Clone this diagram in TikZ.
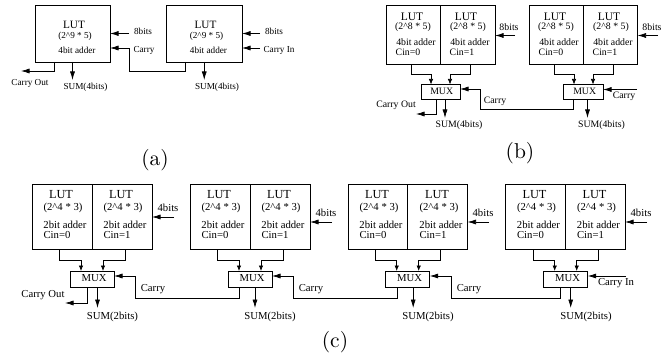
\documentclass[tikz,border=0pt]{standalone}
\usepackage{fontspec}
\usepackage{tikz}
\usetikzlibrary{arrows.meta}
\newfontfamily\timesfont{Liberation Serif}
\tikzset{
  cell/.style={draw,line width=0.8pt,inner sep=0pt,outer sep=0pt},
  sig/.style={line width=0.7pt,-{Latex[length=8.5pt,width=5pt]}},
  feed/.style={line width=0.7pt,-{Latex[length=5.5pt,width=4.5pt]}},
  wire/.style={inner sep=0pt},
  luta/.style={wire,font=\timesfont\fontsize{11.2}{12}\selectfont},
  txta/.style={wire,font=\timesfont\fontsize{9.2}{10}\selectfont},
  lutb/.style={wire,font=\timesfont\fontsize{11.5}{12}\selectfont},
  txtb/.style={wire,font=\timesfont\fontsize{9.8}{11}\selectfont},
  lutc/.style={wire,font=\timesfont\fontsize{12.3}{13}\selectfont},
  txtc/.style={wire,font=\timesfont\fontsize{10.7}{12}\selectfont},
  panel/.style={wire,scale=2.15},
}
\begin{document}
\begin{tikzpicture}[x=1pt,y=-1pt]
\useasboundingbox (0,0) rectangle (671,358);
% (a)
\node[cell,minimum width=75pt,minimum height=56.5pt] (a1) at (72.5,33.75) {};
\node[cell,minimum width=75.5pt,minimum height=56.5pt] (a2) at (204.25,33.75) {};
\node[luta] (a1lut) at (74,25) {LUT};
\node[txta] (a1size) at (75,36) {(2\^{}9 * 5)};
\node[txta] (a1add) at (77,50) {4bit adder};
\node[luta] (a2lut) at (205.5,25) {LUT};
\node[txta] (a2size) at (206.5,36) {(2\^{}9 * 5)};
\node[txta] (a2add) at (208.5,50) {4bit adder};
\node[txta] (a1bits) at (143,31) {8bits};
\node[txta] (a1carry) at (144,50) {Carry};
\node[txta] (a2bits) at (274,31) {8bits};
\node[txta] (a2carry) at (279,50) {Carry In};
\node[txta] (a1out) at (30,83) {Carry Out};
\node[txta] (a1sum) at (85.5,87) {SUM(4bits)};
\node[txta] (a2sum) at (217,87) {SUM(4bits)};
\node[panel] (alabel) at (155,160) {(a)};
\coordinate (a1in) at (129,33.5);
\coordinate (a2in) at (260,33.5);
\coordinate (a2cin) at (260,48);
\coordinate (a1bend) at (129,48);
\coordinate (a1co) at (21,71);
\draw[sig] (a1in) -- (a1in -| a1.east);
\draw[sig] (a2in) -- (a2in -| a2.east);
\draw[sig] (a2cin) -- (a2cin -| a2.east);
\draw[sig] ([xshift=-18.5pt]a1.south) |- (a1co);
\draw[sig] (a1.south) -- ++(0,18);
\draw[sig] (a2.south) -- ++(0,18);
\draw[sig] ([xshift=-18.75pt]a2.south) -- ++(0,9) -| (a1bend) -- (a1bend -| a1.east);
% (b)
\node[cell,minimum width=54pt,minimum height=59pt] (b1l) at (413,35) {};
\node[cell,minimum width=55pt,minimum height=59pt] (b1r) at (467.5,35) {};
\node[cell,minimum width=54.5pt,minimum height=59pt] (b2l) at (556.25,35) {};
\node[cell,minimum width=54pt,minimum height=59pt] (b2r) at (610.5,35) {};
\node[cell,minimum width=39pt,minimum height=14.5pt] (b1m) at (440.5,91.75) {};
\node[cell,minimum width=39.5pt,minimum height=14.5pt] (b2m) at (583.25,91.75) {};
\node[lutb] (b1llut) at (412,16.5) {LUT};
\node[txtb] (b1lsize) at (413,27) {(2\^{}8 * 5)};
\node[txtb] (b1ladd) at (416,42) {4bit adder};
\node[txtb] (b1lcin) at (408,52) {Cin=0};
\node[lutb] (b1rlut) at (466,16.5) {LUT};
\node[txtb] (b1rsize) at (468,27) {(2\^{}8 * 5)};
\node[txtb] (b1radd) at (470,42) {4bit adder};
\node[txtb] (b1rcin) at (462,52) {Cin=1};
\node[lutb] (b2llut) at (555,16.5) {LUT};
\node[txtb] (b2lsize) at (556,27) {(2\^{}8 * 5)};
\node[txtb] (b2ladd) at (559,42) {4bit adder};
\node[txtb] (b2lcin) at (551,52) {Cin=0};
\node[lutb] (b2rlut) at (609,16.5) {LUT};
\node[txtb] (b2rsize) at (611,27) {(2\^{}8 * 5)};
\node[txtb] (b2radd) at (613,42) {4bit adder};
\node[txtb] (b2rcin) at (605,52) {Cin=1};
\node[txtb] (b1mux) at (441.7,91.5) {MUX};
\node[txtb] (b2mux) at (584.7,91.5) {MUX};
\node[txtb] (b1bits) at (509,27) {8bits};
\node[txtb] (b2bits) at (652,27) {8bits};
\node[txtb] (b1carry) at (495,101) {Carry};
\node[txtb] (b2carry) at (624,96) {Carry};
\node[txtb] (b1out) at (396,105.5) {Carry Out};
\node[txtb] (b1sum) at (459,125.5) {SUM(4bits)};
\node[txtb] (b2sum) at (601.5,125.5) {SUM(4bits)};
\node[panel] (blabel) at (520,153) {(b)};
\coordinate (b1in) at (515,35.5);
\coordinate (b2in) at (658,35.5);
\coordinate (b2cin) at (637,89.5);
\coordinate (b1bend) at (480,89);
\coordinate (b1co) at (416,114);
\draw[sig] (b1in) -- (b1in -| b1r.east);
\draw[sig] (b2in) -- (b2in -| b2r.east);
\draw[sig] (b2cin) -- (b2cin -| b2m.east);
\draw[feed] ([xshift=-2pt]b1l.south) -- ++(0,9.5) -| ([xshift=-9.5pt]b1m.north);
\draw[feed] ([xshift=2.5pt]b1r.south) -- ++(0,9.5) -| ([xshift=9.5pt]b1m.north);
\draw[feed] ([xshift=-2.25pt]b2l.south) -- ++(0,9.5) -| ([xshift=-9.25pt]b2m.north);
\draw[feed] ([xshift=2.5pt]b2r.south) -- ++(0,9.5) -| ([xshift=9.75pt]b2m.north);
\draw[sig] ([xshift=-4.5pt]b1m.south) |- (b1co);
\draw[sig] ([xshift=4.5pt]b1m.south) -- ++(0,19);
\draw[sig] ([xshift=4.25pt]b2m.south) -- ++(0,19);
\draw[sig] ([xshift=-10.25pt]b2m.south) -- ++(0,10) -| (b1bend) -- (b1bend -| b1m.east);
% (c)
\node[cell,minimum width=60pt,minimum height=65pt] (c1l) at (62,216.5) {};
\node[cell,minimum width=60pt,minimum height=65pt] (c1r) at (122,216.5) {};
\node[cell,minimum width=60pt,minimum height=65pt] (c2l) at (220,216.5) {};
\node[cell,minimum width=60pt,minimum height=65pt] (c2r) at (280,216.5) {};
\node[cell,minimum width=59.5pt,minimum height=65pt] (c3l) at (377.75,216.5) {};
\node[cell,minimum width=60pt,minimum height=65pt] (c3r) at (437.5,216.5) {};
\node[cell,minimum width=60pt,minimum height=65pt] (c4l) at (535.5,216.5) {};
\node[cell,minimum width=59.5pt,minimum height=65pt] (c4r) at (595.25,216.5) {};
\node[cell,minimum width=44pt,minimum height=16pt] (c1m) at (92,279) {};
\node[cell,minimum width=44pt,minimum height=16pt] (c2m) at (250,279) {};
\node[cell,minimum width=44pt,minimum height=16pt] (c3m) at (407.7,279) {};
\node[cell,minimum width=44pt,minimum height=16pt] (c4m) at (565.7,279) {};
\node[lutc] (c1llut) at (61,195) {LUT};
\node[txtc] (c1lsize) at (63,208) {(2\^{}4 * 3)};
\node[txtc] (c1ladd) at (65,225) {2bit adder};
\node[txtc] (c1lcin) at (57,235) {Cin=0};
\node[lutc] (c1rlut) at (121,195) {LUT};
\node[txtc] (c1rsize) at (123,208) {(2\^{}4 * 3)};
\node[txtc] (c1radd) at (125,225) {2bit adder};
\node[txtc] (c1rcin) at (117,235) {Cin=1};
\node[lutc] (c2llut) at (219,195) {LUT};
\node[txtc] (c2lsize) at (221,208) {(2\^{}4 * 3)};
\node[txtc] (c2ladd) at (223,225) {2bit adder};
\node[txtc] (c2lcin) at (215,235) {Cin=0};
\node[lutc] (c2rlut) at (279,195) {LUT};
\node[txtc] (c2rsize) at (281,208) {(2\^{}4 * 3)};
\node[txtc] (c2radd) at (283,225) {2bit adder};
\node[txtc] (c2rcin) at (275,235) {Cin=1};
\node[lutc] (c3llut) at (377,195) {LUT};
\node[txtc] (c3lsize) at (379,208) {(2\^{}4 * 3)};
\node[txtc] (c3ladd) at (381,225) {2bit adder};
\node[txtc] (c3lcin) at (373,235) {Cin=0};
\node[lutc] (c3rlut) at (437,195) {LUT};
\node[txtc] (c3rsize) at (439,208) {(2\^{}4 * 3)};
\node[txtc] (c3radd) at (441,225) {2bit adder};
\node[txtc] (c3rcin) at (433,235) {Cin=1};
\node[lutc] (c4llut) at (534.5,195) {LUT};
\node[txtc] (c4lsize) at (536.5,208) {(2\^{}4 * 3)};
\node[txtc] (c4ladd) at (538.5,225) {2bit adder};
\node[txtc] (c4lcin) at (530.5,235) {Cin=0};
\node[lutc] (c4rlut) at (594.5,195) {LUT};
\node[txtc] (c4rsize) at (596.5,208) {(2\^{}4 * 3)};
\node[txtc] (c4radd) at (598.5,225) {2bit adder};
\node[txtc] (c4rcin) at (590.5,235) {Cin=1};
\node[txtc] (c1mux) at (94,278.5) {MUX};
\node[txtc] (c2mux) at (252,278.5) {MUX};
\node[txtc] (c3mux) at (409.7,278.5) {MUX};
\node[txtc] (c4mux) at (567.7,278.5) {MUX};
\node[txtc] (c1bits) at (168,208) {4bits};
\node[txtc] (c2bits) at (326,213) {4bits};
\node[txtc] (c3bits) at (483,213) {4bits};
\node[txtc] (c4bits) at (641,213) {4bits};
\node[txtc] (c1carry) at (153,289.5) {Carry};
\node[txtc] (c2carry) at (311,289.5) {Carry};
\node[txtc] (c3carry) at (469,289.5) {Carry};
\node[txtc] (c4carry) at (616,283.5) {Carry In};
\node[txtc] (c1out) at (43,295) {Carry Out};
\node[txtc] (c1sum) at (112.5,316.5) {SUM(2bits)};
\node[txtc] (c2sum) at (270,316.5) {SUM(2bits)};
\node[txtc] (c3sum) at (428,316.5) {SUM(2bits)};
\node[txtc] (c4sum) at (586,316.5) {SUM(2bits)};
\node[panel] (clabel) at (335,342) {(c)};
\coordinate (c1in) at (174,217);
\coordinate (c2in) at (332,222);
\coordinate (c3in) at (489,222);
\coordinate (c4in) at (647,222);
\coordinate (c4cin) at (626,276);
\coordinate (c1bend) at (135.5,276);
\coordinate (c2bend) at (293,276);
\coordinate (c3bend) at (451,276);
\coordinate (c1co) at (65,303);
\draw[sig] (c1in) -- (c1in -| c1r.east);
\draw[sig] (c2in) -- (c2in -| c2r.east);
\draw[sig] (c3in) -- (c3in -| c3r.east);
\draw[sig] (c4in) -- (c4in -| c4r.east);
\draw[sig] (c4cin) -- (c4cin -| c4m.east);
\draw[feed] ([xshift=-2.5pt]c1l.south) -- ++(0,11) -| ([xshift=-11pt]c1m.north);
\draw[feed] ([xshift=3pt]c1r.south) -- ++(0,11) -| ([xshift=11pt]c1m.north);
\draw[feed] ([xshift=-2.5pt]c2l.south) -- ++(0,11) -| ([xshift=-11pt]c2m.north);
\draw[feed] ([xshift=3pt]c2r.south) -- ++(0,11) -| ([xshift=11pt]c2m.north);
\draw[feed] ([xshift=-2.5pt]c3l.south) -- ++(0,11) -| ([xshift=-11pt]c3m.north);
\draw[feed] ([xshift=3pt]c3r.south) -- ++(0,11) -| ([xshift=11pt]c3m.north);
\draw[feed] ([xshift=-2.5pt]c4l.south) -- ++(0,11) -| ([xshift=-11pt]c4m.north);
\draw[feed] ([xshift=3pt]c4r.south) -- ++(0,11) -| ([xshift=11pt]c4m.north);
\draw[sig] ([xshift=-5pt]c1m.south) |- (c1co);
\draw[sig] ([xshift=5.5pt]c1m.south) -- ++(0,21);
\draw[sig] ([xshift=5pt]c2m.south) -- ++(0,21);
\draw[sig] ([xshift=5.5pt]c3m.south) -- ++(0,21);
\draw[sig] ([xshift=5pt]c4m.south) -- ++(0,21);
\draw[sig] ([xshift=-11pt]c2m.south) -- ++(0,11) -| (c1bend) -- (c1bend -| c1m.east);
\draw[sig] ([xshift=-10.7pt]c3m.south) -- ++(0,11) -| (c2bend) -- (c2bend -| c2m.east);
\draw[sig] ([xshift=-5.7pt]c4m.south) -- ++(0,11) -| (c3bend) -- (c3bend -| c3m.east);
\end{tikzpicture}
\end{document}
